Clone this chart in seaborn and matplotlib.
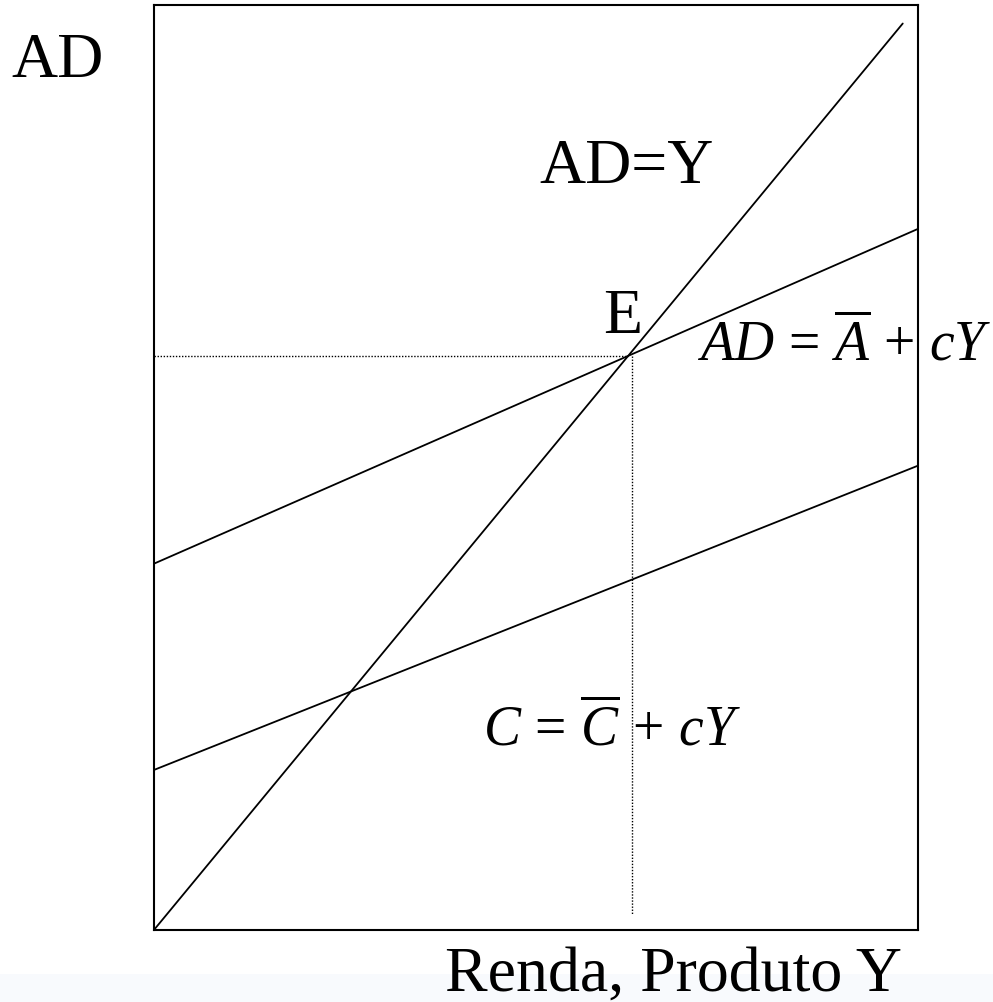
import matplotlib
matplotlib.use("Agg")
import matplotlib.pyplot as plt
import seaborn as sns
import pandas as pd
from matplotlib.patches import Rectangle

# ---- data ----
income_ends = [0, 100]            # Y axis extent for the sloped lines
ad_values = [39.6, 75.8]          # AD = A + cY at Y=0 and Y=100
c_values = [17.3, 50.2]           # C = C + cY at Y=0 and Y=100
line45_ends = [0, 98]             # AD = Y line
eq_point = 62.1                   # equilibrium E (Y = AD)
dotted_bottom = 1.7               # lower end of vertical dotted guide

sns.set_theme(style="white")
plt.rcParams['font.family'] = ['Liberation Serif', 'DejaVu Serif']
plt.rcParams['mathtext.fontset'] = 'custom'
plt.rcParams['mathtext.rm'] = 'Liberation Serif'
plt.rcParams['mathtext.it'] = 'Liberation Serif:italic'
plt.rcParams['text.color'] = 'black'

fig = plt.figure(figsize=(9.93, 10.03), dpi=100)
fig.patch.set_facecolor('white')
fig.patches.append(Rectangle((0, 0), 1, 0.028, transform=fig.transFigure,
                             facecolor='#f8fafd', edgecolor='none', zorder=-10))
ax = fig.add_axes([0.155, 0.0718, 0.7695, 0.9222])
ax.set_facecolor('white')

df45 = pd.DataFrame({'Y': line45_ends, 'AD': line45_ends})
dfad = pd.DataFrame({'Y': income_ends, 'AD': ad_values})
dfc = pd.DataFrame({'Y': income_ends, 'AD': c_values})

lw = 1.3
sns.lineplot(data=df45, x='Y', y='AD', ax=ax, color='black', lw=lw)
sns.lineplot(data=dfad, x='Y', y='AD', ax=ax, color='black', lw=lw)
sns.lineplot(data=dfc, x='Y', y='AD', ax=ax, color='black', lw=lw)

dh = pd.DataFrame({'Y': [0, eq_point], 'AD': [eq_point, eq_point]})
dv = pd.DataFrame({'Y': [eq_point + 0.45, eq_point + 0.45], 'AD': [eq_point, dotted_bottom]})
sns.lineplot(data=dh, x='Y', y='AD', ax=ax, color='black', lw=1.0, linestyle=(0, (1, 1.2)),
             estimator=None)
sns.lineplot(data=dv, x='Y', y='AD', ax=ax, color='black', lw=1.0, linestyle=(0, (1, 1.2)),
             estimator=None, sort=False, errorbar=None)

ax.set_xlim(0, 100)
ax.set_ylim(0, 100)
ax.set_xticks([])
ax.set_yticks([])
ax.set_xlabel('')
ax.set_ylabel('')
for s in ax.spines.values():
    s.set_visible(True)
    s.set_color('black')
    s.set_linewidth(1.5)

fs = 46
ax.text(-12.6, 92.3, 'AD', fontsize=fs, ha='center', va='baseline', clip_on=False, color='black')
ax.text(61.8, 80.9, 'AD=Y', fontsize=fs, ha='center', va='baseline', color='black')
ax.text(61.3, 64.6, 'E', fontsize=fs, ha='center', va='baseline', color='black')
ax.text(71.1, 61.7, r'$AD\,=\,\overline{A}\,+\,cY$', fontsize=40, ha='left',
        va='baseline', clip_on=False, color='black')
ax.text(43.1, 20.1, r'$C\,=\,\overline{C}\,+\,cY$', fontsize=40, ha='left', va='baseline',
        color='black')
ax.text(38.1, -6.4, 'Renda, Produto Y', fontsize=fs, ha='left', va='baseline',
        clip_on=False, color='black')

fig.savefig('out.png', dpi=100)
